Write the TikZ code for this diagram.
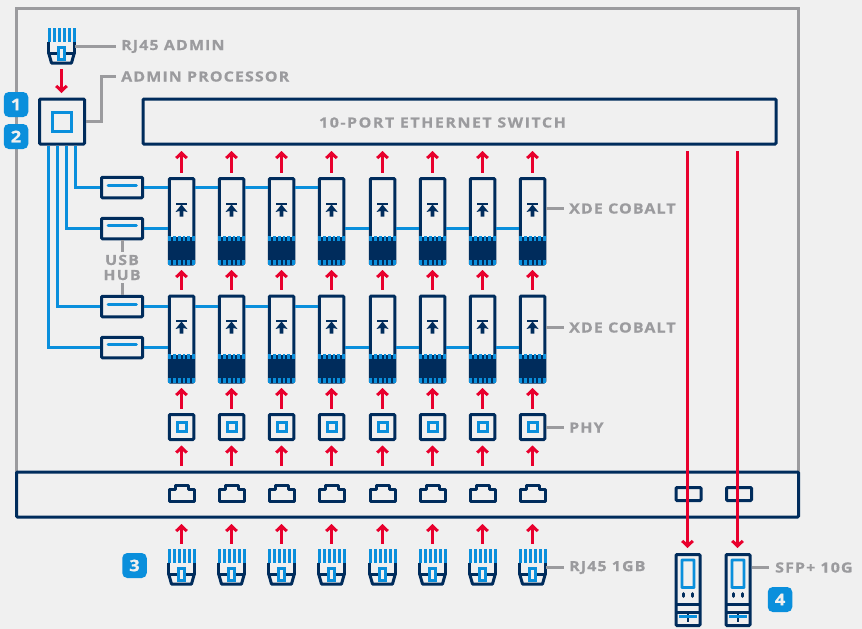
\documentclass[tikz,border=0pt]{standalone}
\usepackage{fontspec}
\setmainfont{Open Sans}[BoldFont={Open Sans Bold},BoldFeatures={FakeBold=0.7},FakeStretch=1.14,LetterSpace=8]
\newfontfamily\widelabel{Open Sans Bold}[FakeBold=0.7,FakeStretch=1.14,LetterSpace=11]
\usetikzlibrary{arrows.meta}
\definecolor{navy}{HTML}{002C5C}
\definecolor{skyb}{HTML}{0A8FDC}
\definecolor{redd}{HTML}{E8002D}
\definecolor{grayy}{HTML}{9B9B9E}
\definecolor{paper}{HTML}{F0F0F0}
\tikzset{
  box/.style={draw=navy,line width=3pt,rounded corners=1pt,inner sep=0pt,fill=paper},
  chipbox/.style={box,minimum width=24.5pt,minimum height=85.5pt},
  hubbox/.style={box,minimum width=41pt,minimum height=20.5pt},
  phybox/.style={box,minimum width=24.5pt,minimum height=25pt},
  blueinner/.style={draw=skyb,line width=3pt,inner sep=0pt},
  usb/.style={draw=skyb,line width=2.9pt},
  lead/.style={draw=grayy,line width=3pt},
  up/.style={draw=redd,line width=3pt,-{Straight Barb[length=5pt,width=10.5pt,line width=3pt]}},
  label/.style={text=grayy,font=\bfseries\fontsize{14}{14}\selectfont,inner sep=0pt,anchor=west},
  badge/.style={fill=skyb,rounded corners=5pt,minimum width=24.5pt,minimum height=25pt,inner sep=0pt,text=paper,font=\bfseries\fontsize{16}{16}\selectfont},
  slot/.style={minimum width=28pt,minimum height=36pt,inner sep=0pt}
}
\newcommand{\rjart}[2]{%
  \begin{scope}[shift={(#1,#2)}]
    \foreach \k in {-12.5,-7.5,-2.5,2.5,7.5,12.5} \draw[draw=skyb,line width=3pt] (\k,-18) -- (\k,-4);
    \draw[draw=navy,line width=3pt,line join=round] (-12.8,-4) -- (-12.8,7) -- (12.8,7) -- (12.8,-4);
    \draw[draw=navy,line width=3pt,line join=round] (-12.8,7) -- (-10,17) -- (10,17) -- (12.8,7);
    \draw[draw=skyb,line width=3pt,fill=paper] (-2.8,1.5) rectangle (2.8,13);
  \end{scope}}
\newcommand{\chipart}[3]{%
  \begin{scope}[shift={(#1,0)}]
    \fill[navy] (-13.4,#2) rectangle (13.4,#2+28);
    \foreach \k in {-12.2,-7.3,-2.4,2.4,7.3,12.2} {
      \fill[skyb] (\k-1.4,#2-1) rectangle (\k+1.4,#2+4);
      \fill[skyb] (\k-1.4,#2+22.5) rectangle (\k+1.4,#2+28);
    }
    \draw[navy,line width=2.4pt] (-5.2,#3+1.2) -- (5.2,#3+1.2);
    \fill[navy] (0,#3+1.5) -- (6,#3+9) -- (1.9,#3+8) -- (1.9,#3+13.5) -- (-1.9,#3+13.5) -- (-1.9,#3+8) -- (-6,#3+9) -- cycle;
  \end{scope}}
\newcommand{\sfpart}[1]{%
  \begin{scope}[shift={(#1,0)}]
    \draw[skyb,line width=2.9pt,rounded corners=0.5pt] (-6,560) rectangle (6,587.5);
    \foreach \k in {-4.3,4.3} \draw[navy,line width=2.8pt,line cap=round] (\k,593.5) -- (\k,596.5);
    \draw[navy,line width=2.6pt] (-12,604.5) -- (12,604.5) (-12,612.5) -- (12,612.5);
    \draw[navy,line width=2.6pt] (0,612) -- (0,621.5);
    \draw[skyb,line width=2.8pt] (-9,616.5) -- (9,616.5);
  \end{scope}}
\begin{document}
\begin{tikzpicture}[x=1pt,y=-1pt]
\useasboundingbox[fill=paper] (0,0) rectangle (862,629);
\draw[grayy,line width=3pt] (16.5,472) -- (16.5,8.5) -- (798.5,8.5) -- (798.5,472);
\node[badge] (b1) at (16,104.5) {1};
\node[badge] (b2) at (16,136.5) {2};
\node[badge] (b3) at (134.5,565.5) {3};
\node[badge] (b4) at (780,599.5) {4};
\node[box,minimum width=45pt,minimum height=45pt] (proc) at (62,121.5) {};
\node[blueinner,minimum width=19pt,minimum height=19pt] (procin) at (61.5,121.5) {};
\node[box,minimum width=633pt,minimum height=45pt] (sw) at (459.5,121.5) {};
\node[text=grayy,font=\widelabel\fontsize{14}{14}\selectfont,inner sep=0pt] (swt) at (442.5,122.5) {10-PORT ETHERNET SWITCH};
\node[box,minimum width=782pt,minimum height=45pt] (band) at (407.5,494.5) {};
\coordinate (u1) at (75.5,0);
\coordinate (u2) at (66.5,0);
\coordinate (u3) at (57.5,0);
\coordinate (u4) at (48.5,0);
\coordinate (r1) at (0,187.5);
\coordinate (r2) at (0,228.5);
\coordinate (r3) at (0,306.5);
\coordinate (r4) at (0,347.5);
\node[hubbox] (h1) at (122,187.5) {};
\node[hubbox] (h2) at (122,228.5) {};
\node[hubbox] (h3) at (122,306.5) {};
\node[hubbox] (h4) at (122,347.5) {};
\foreach \n/\yy in {h1/185.5,h2/225.5,h3/304.5,h4/344.5} \draw[usb,line cap=round] (108,\yy) -- (136.5,\yy);
\draw[usb] (proc.south -| u1) |- (h1.west);
\draw[usb] (proc.south -| u2) |- (h2.west);
\draw[usb] (proc.south -| u3) |- (h3.west);
\draw[usb] (proc.south -| u4) |- (h4.west);
\foreach \i in {1,...,8} {
  \pgfmathsetmacro{\x}{floor(181+(\i-1)*50.25)+0.5}
  \node[chipbox] (t\i) at (\x,221.25) {};
  \node[chipbox,minimum height=86pt] (m\i) at (\x,339) {};
  \node[phybox] (p\i) at (\x,427) {};
  \node[blueinner,minimum width=9pt,minimum height=9pt] (pin\i) at (\x,427) {};
  \node[slot] (j\i) at (\x,567) {};
  \chipart{\x}{237}{203}
  \chipart{\x}{355}{320}
  \rjart{\x}{567}
  \coordinate (q\i) at (\x,0);
  \draw[navy,line width=3pt,line join=round] (\x-12.5,489) -- (\x-6.5,489) -- (\x-6.5,485) -- (\x+6.5,485) -- (\x+6.5,489) -- (\x+12.5,489) -- (\x+12.5,501) -- (\x-12.5,501) -- cycle;
  \draw[up,shorten <=4.5pt,shorten >=5.5pt] (t\i.north) -- (sw.south -| t\i);
  \draw[up,shorten <=5pt,shorten >=4.5pt] (m\i.north) -- (t\i.south);
  \draw[up,shorten <=4.5pt,shorten >=4.5pt] (p\i.north) -- (m\i.south);
  \draw[up,shorten <=5pt,shorten >=4.5pt] (band.north -| q\i) -- (p\i.south);
  \draw[up,shorten <=5pt,shorten >=5.5pt] (j\i.north) -- (band.south -| q\i);
}
\foreach \a/\b/\r in {h1/t1/r1,h2/t1/r2,h3/m1/r3,h4/m1/r4} \draw[usb] (\a.east) -- (\b.west |- \r);
\foreach \a/\b in {1/2,2/3,3/4} {
  \draw[usb] (t\a.east |- r1) -- (t\b.west |- r1);
  \draw[usb] (m\a.east |- r3) -- (m\b.west |- r3);
}
\foreach \a/\b in {4/5,5/6,6/7,7/8} {
  \draw[usb] (t\a.east |- r2) -- (t\b.west |- r2);
  \draw[usb] (m\a.east |- r4) -- (m\b.west |- r4);
}
\node[box,minimum width=25pt,minimum height=13pt] (sp1) at (688.5,494) {};
\node[box,minimum width=25pt,minimum height=13pt] (sp2) at (739,494) {};
\node[box,minimum width=24pt,minimum height=71pt] (f1) at (688,590) {};
\node[box,minimum width=24pt,minimum height=71pt] (f2) at (738,590) {};
\sfpart{688}
\sfpart{738}
\coordinate (d1) at (687.5,0);
\coordinate (d2) at (737.5,0);
\draw[up,shorten <=5.5pt,shorten >=5pt] (sw.south -| d1) -- (f1.north -| d1);
\draw[up,shorten <=5.5pt,shorten >=5pt] (sw.south -| d2) -- (f2.north -| d2);
\node[slot] (ja) at (61.5,46) {};
\rjart{61.5}{46}
\draw[up,shorten <=5pt,shorten >=4.5pt] (ja.south) -- (proc.north -| ja);
\node[label] (la) at (121,46.5) {RJ45 ADMIN};
\node[label] (lp) at (121,76.5) {ADMIN PROCESSOR};
\node[label] (lx1) at (569,208.5) {XDE COBALT};
\node[label] (lx2) at (569,327.5) {XDE COBALT};
\node[label] (lh) at (569,427.5) {PHY};
\node[label] (lr) at (569,567.5) {RJ45 1GB};
\node[label] (ls) at (775,567.5) {SFP+ 10G};
\node[text=grayy,font=\bfseries\fontsize{14}{15}\selectfont,align=center,inner sep=0pt] (lu) at (122,267.5) {USB\\HUB};
\coordinate (elb) at (101.5,76.5);
\draw[lead,shorten <=-1pt,shorten >=5pt] (ja.east |- la) -- (la.west);
\draw[lead,shorten >=5pt] (proc.east) -| (elb) -- (lp.west);
\draw[lead,shorten >=5pt] (t8.east |- lx1) -- (lx1.west);
\draw[lead,shorten >=5pt] (m8.east |- lx2) -- (lx2.west);
\draw[lead,shorten >=5pt] (p8.east |- lh) -- (lh.west);
\draw[lead,shorten <=-1pt,shorten >=5pt] (j8.east |- lr) -- (lr.west);
\draw[lead,shorten >=6pt] (f2.east |- ls) -- (ls.west);
\draw[lead,shorten >=3pt] (h2.south) -- (lu.north);
\draw[lead,shorten >=3pt] (h3.north) -- (lu.south);
\end{tikzpicture}
\end{document}
